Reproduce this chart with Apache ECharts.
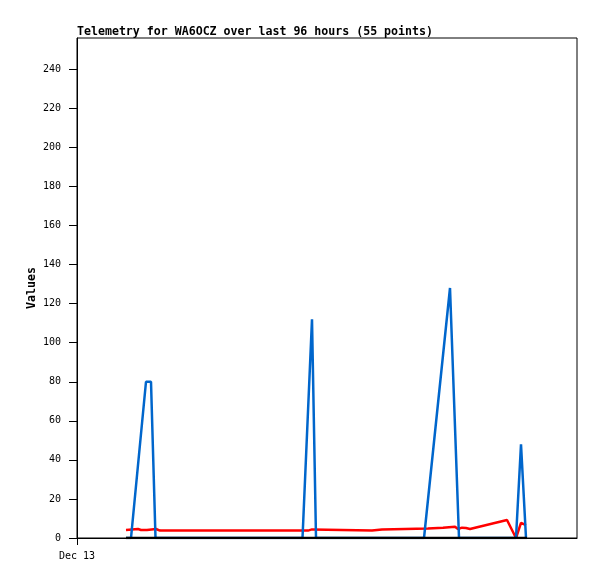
<!DOCTYPE html>
<html>
<head>
<meta charset="utf-8">
<script src="https://cdn.jsdelivr.net/npm/echarts@6/dist/echarts.min.js"></script>
<style>
  html, body { margin: 0; padding: 0; background: #fff; }
  #chart { width: 597px; height: 579px; }
</style>
</head>
<body>
<div id="chart"></div>
<script>
// hours since Dec 13 00:00
const blueTimes = [9.8, 10.8, 13.8, 14.8, 15.7, 45.1, 47.0, 47.8, 69.4, 74.6, 76.4, 87.8, 88.8, 89.8];
const blueValues = [0, 0, 80, 80, 0, 0, 112, 0, 0, 128, 0, 0, 48, 0];

const redTimes = [9.8, 10.2, 12.2, 12.8, 14.0, 14.4, 15.8, 16.6, 46.2, 46.6, 47.0, 47.4, 59.0, 59.4, 61.0, 61.4,
  70.2, 70.6, 73.2, 73.6, 75.6, 76.2, 77.0, 77.8, 78.2, 78.6, 86.0, 87.8, 88.8, 89.8];
const redValues = [4.1, 4.6, 4.6, 4.1, 4.1, 4.6, 4.6, 3.8, 3.8, 4.4, 4.4, 3.8, 3.8, 4.4, 4.4, 4.9,
  4.9, 5.3, 5.3, 5.8, 5.8, 4.6, 5.3, 5.1, 5.8, 4.6, 9.2, 0, 7.8, 6.6];

const blackTimes = [9.8, 90.0];
const blackValues = [0, 0];

const yTicks = [0, 20, 40, 60, 80, 100, 120, 140, 160, 180, 200, 220, 240];
const xTickLabel = 'Dec 13';

function pairs(xs, ys) {
  return xs.map((x, i) => [x, ys[i]]);
}

const chart = echarts.init(document.getElementById('chart'));
const mono = 'DejaVu Sans Mono';

chart.setOption({
  animation: false,
  title: {
    text: 'Telemetry for WA6OCZ over last 96 hours (55 points)',
    left: 77,
    top: 26,
    padding: 0,
    textStyle: { fontFamily: mono, fontSize: 11.6, fontWeight: 'bold', color: '#000' }
  },
  grid: {
    left: 77, right: 20, top: 38, bottom: 41,
    show: true, borderColor: '#000', borderWidth: 1, backgroundColor: '#fff'
  },
  xAxis: {
    type: 'value',
    min: 0,
    max: 100,
    splitLine: { show: false },
    axisLine: { lineStyle: { color: '#000', width: 1 } },
    axisTick: { length: 7, customValues: [0], lineStyle: { color: '#000' } },
    axisLabel: {
      customValues: [0],
      formatter: () => xTickLabel,
      margin: 13,
      fontFamily: mono, fontSize: 10, color: '#000'
    }
  },
  yAxis: {
    type: 'value',
    min: 0,
    max: 256,
    name: 'Values',
    nameLocation: 'middle',
    nameGap: 39,
    nameMoveOverlap: false,
    nameTextStyle: { fontFamily: mono, fontSize: 11.6, fontWeight: 'bold', color: '#000' },
    splitLine: { show: false },
    axisLine: { show: true, lineStyle: { color: '#000', width: 1 } },
    axisTick: { show: true, length: 8, customValues: yTicks, lineStyle: { color: '#000' } },
    axisLabel: {
      customValues: yTicks,
      margin: 16,
      fontFamily: mono, fontSize: 10, color: '#000'
    }
  },
  series: [
    {
      type: 'line', data: pairs(redTimes, redValues), showSymbol: false,
      lineStyle: { color: '#ff0000', width: 2.5 }, z: 2
    },
    {
      type: 'line', data: pairs(blueTimes, blueValues), showSymbol: false,
      lineStyle: { color: '#0066cc', width: 2.5 }, z: 3
    },
    {
      type: 'line', data: pairs(blackTimes, blackValues), showSymbol: false,
      lineStyle: { color: '#000000', width: 2.5 }, z: 4
    }
  ]
});
</script>
</body>
</html>
